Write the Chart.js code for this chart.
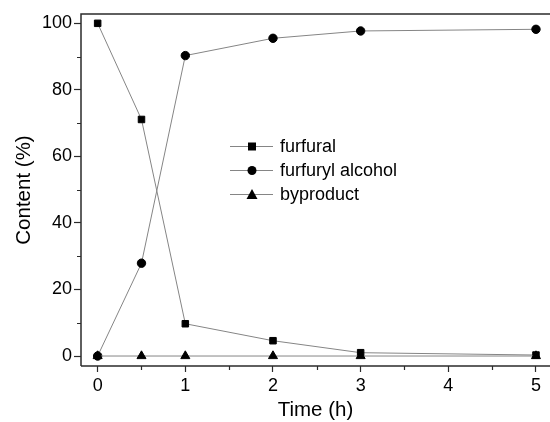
<!DOCTYPE html>
<html>
<head>
<meta charset="utf-8">
<script src="https://cdn.jsdelivr.net/npm/chart.js@4.4.1/dist/chart.umd.min.js"></script>
<style>
  html, body { margin: 0; padding: 0; background: #fff; }
  #wrap { width: 550px; height: 422px; }
</style>
</head>
<body>
<div id="wrap"><canvas id="c" width="550" height="422"></canvas></div>
<script>
// Reaction time (h)
const times = [0, 0.5, 1, 2, 3, 5];
// Content (%) of each component over time
const furfural = [100, 71.1, 9.7, 4.6, 1.0, 0.3];
const furfurylAlcohol = [0, 27.9, 90.3, 95.5, 97.7, 98.2];
const byproduct = [0, 0, 0, 0, 0, 0];
const seriesNames = ['furfural', 'furfuryl alcohol', 'byproduct'];
const markerStyles = ['rect', 'circle', 'triangle'];
const xTicks = [0, 1, 2, 3, 4, 5];
const yTicks = [0, 20, 40, 60, 80, 100];

const FONT = 'Liberation Sans, Arial, sans-serif';
const AXIS = '#2b2b2b';

function pts(ys) { return times.map((t, i) => ({ x: t, y: ys[i] })); }

const markerSizes = { rect: 4.6, circle: 4.2, triangle: 5.2 };
const datasets = [furfural, furfurylAlcohol, byproduct].map((ys, i) => ({
  label: seriesNames[i],
  data: pts(ys),
  borderColor: '#858585',
  borderWidth: 1,
  pointStyle: markerStyles[i],
  pointRadius: markerSizes[markerStyles[i]],
  pointBackgroundColor: '#000',
  pointBorderColor: '#000',
  pointBorderWidth: 1,
  tension: 0,
  clip: false,
  order: 3 - i
}));

// Frame, minor ticks, x tick labels and in-plot legend
const decor = {
  id: 'decor',
  afterDraw(chart) {
    const ctx = chart.ctx;
    const a = chart.chartArea;
    const xs = chart.scales.x, ys = chart.scales.y;
    ctx.save();
    ctx.strokeStyle = AXIS;
    ctx.lineWidth = 1.5;
    // frame
    ctx.beginPath();
    ctx.moveTo(a.left, a.bottom);
    ctx.lineTo(a.left, a.top);
    ctx.lineTo(a.right, a.top);
    ctx.moveTo(a.left, a.bottom);
    ctx.lineTo(a.right, a.bottom);
    ctx.stroke();
    // minor ticks
    ctx.lineWidth = 1.2;
    ctx.beginPath();
    for (let v = 10; v <= 100; v += 20) {
      const y = Math.round(ys.getPixelForValue(v)) + 0.5;
      ctx.moveTo(a.left - 4, y); ctx.lineTo(a.left, y);
    }
    for (let v = 0.5; v <= 5; v += 1) {
      const x = Math.round(xs.getPixelForValue(v)) + 0.5;
      ctx.moveTo(x, a.bottom); ctx.lineTo(x, a.bottom + 4);
    }
    ctx.stroke();
    // x tick labels
    ctx.font = '18px ' + FONT;
    ctx.fillStyle = '#000';
    ctx.textAlign = 'center';
    ctx.textBaseline = 'middle';
    xTicks.forEach(v => ctx.fillText(String(v), xs.getPixelForValue(v), a.bottom + 20));
    // legend
    ctx.textAlign = 'left';
    const lx0 = 230, lx1 = 273, mx = 252, tx = 280;
    const rows = [146, 170, 194];
    rows.forEach((ry, i) => {
      ctx.strokeStyle = '#858585';
      ctx.lineWidth = 1;
      ctx.beginPath();
      ctx.moveTo(lx0, ry + 0.5); ctx.lineTo(lx1, ry + 0.5);
      ctx.stroke();
      ctx.fillStyle = '#000';
      ctx.beginPath();
      if (markerStyles[i] === 'rect') {
        ctx.rect(mx - 4, ry - 3.5, 8, 8);
      } else if (markerStyles[i] === 'circle') {
        ctx.arc(mx, ry + 0.5, 4.5, 0, Math.PI * 2);
      } else {
        ctx.moveTo(mx, ry - 5); ctx.lineTo(mx + 5.5, ry + 5); ctx.lineTo(mx - 5.5, ry + 5); ctx.closePath();
      }
      ctx.fill();
      ctx.fillText(seriesNames[i], tx, ry + 1);
    });
    ctx.restore();
  }
};

new Chart(document.getElementById('c'), {
  type: 'line',
  data: { datasets },
  options: {
    responsive: false,
    animation: false,
    layout: { autoPadding: false, padding: { top: 14, right: 0, left: 0, bottom: 0 } },
    plugins: { legend: { display: false }, tooltip: { enabled: false } },
    scales: {
      x: {
        type: 'linear',
        min: -0.19,
        max: 5.16,
        afterFit(s) { s.height = 56; },
        afterBuildTicks(s) { s.ticks = xTicks.map(v => ({ value: v })); },
        ticks: { display: false },
        grid: { drawOnChartArea: false, drawTicks: true, tickLength: 6, tickColor: AXIS, tickWidth: 1.2 },
        border: { display: false },
        title: { display: true, text: 'Time (h)', font: { family: FONT, size: 20.5 }, color: '#000', padding: { top: 0, bottom: -1 } }
      },
      y: {
        type: 'linear',
        min: -3,
        max: 102.8,
        afterFit(s) { s.width = 81; },
        afterBuildTicks(s) { s.ticks = yTicks.map(v => ({ value: v })); },
        ticks: { font: { family: FONT, size: 18 }, color: '#000', padding: 2 },
        grid: { drawOnChartArea: false, drawTicks: true, tickLength: 7, tickColor: AXIS, tickWidth: 1.2 },
        border: { display: false },
        title: { display: true, text: 'Content (%)', font: { family: FONT, size: 20.5 }, color: '#000', padding: { top: 12, bottom: 0 } }
      }
    }
  },
  plugins: [decor]
});
</script>
</body>
</html>
